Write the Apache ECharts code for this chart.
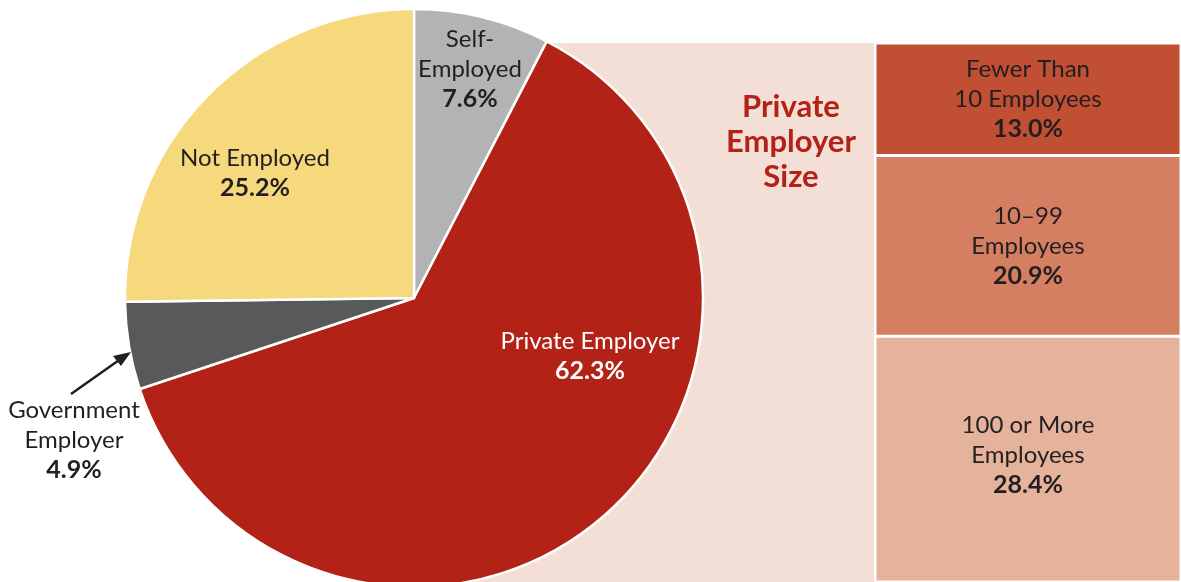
<!DOCTYPE html>
<html>
<head>
<meta charset="utf-8">
<script src="https://cdn.jsdelivr.net/npm/echarts@6/dist/echarts.min.js"></script>
<style>
html,body{margin:0;padding:0;background:#fff;}
#main{width:1181px;height:582px;}
</style>
</head>
<body>
<div id="main"></div>
<script>
// 饼图数据（顺时针，从12点开始）
var pieNames = ['Self-\nEmployed', 'Private Employer', 'Government\nEmployer', 'Not Employed'];
var pieValues = [7.6, 62.3, 4.9, 25.2];
var pieColors = ['#b3b3b6', '#b22216', '#58595b', '#f5d97c'];
var pieLabelColors = ['#231f20', '#ffffff', '#231f20', '#231f20'];

// 私营雇主规模数据
var sizeNames = ['Fewer Than\n10 Employees', '10\u201399\nEmployees', '100 or More\nEmployees'];
var sizeValues = [13.0, 20.9, 28.4];
var sizeColors = ['#c04f33', '#d47e62', '#e5b29b'];

var FONT = 'Lato';
var TXT = '#231f20';

// 标签位置（label中心）
var pieLabelPos = [[470, 69], [590, 356], [74, 440], [255, 173]];

function richLabel(name, val) {
    var parts = name.split('\n');
    var s = parts.map(function(p){ return '{n|' + p + '}'; }).join('\n');
    return s + '\n{v|' + val.toFixed(1) + '%}';
}

var myChart = echarts.init(document.getElementById('main'));

var option = {
    animation: false,
    backgroundColor: '#ffffff',
    title: {
        text: 'Private\nEmployer\nSize',
        left: 786,
        top: 84,
        textAlign: 'center',
        textStyle: {
            fontFamily: FONT,
            fontSize: 31,
            fontWeight: 'bold',
            color: '#b22216',
            lineHeight: 35
        }
    },
    graphic: [
        {
            type: 'rect',
            z: 0,
            shape: {x: 414, y: 43, width: 460, height: 545},
            style: {fill: '#f3dfd5'}
        },
        {
            type: 'line',
            z: 10,
            shape: {x1: 71, y1: 394, x2: 122, y2: 358},
            style: {stroke: '#231f20', lineWidth: 2.5}
        },
        {
            type: 'polygon',
            z: 10,
            shape: {points: [[131, 352], [113, 356], [121, 366]]},
            style: {fill: '#231f20'}
        }
    ],
    grid: {left: 875, right: -5, top: 43, bottom: -10},
    xAxis: {type: 'category', data: ['size'], show: false},
    yAxis: {type: 'value', inverse: true, min: 0, max: 62.3, show: false},
    series: [
        {
            type: 'pie',
            z: 2,
            center: [414, 298],
            radius: [0, 289],
            startAngle: 90,
            clockwise: true,
            silent: true,
            itemStyle: {borderColor: '#ffffff', borderWidth: 2.5},
            labelLine: {show: false},
            label: {
                show: true,
                position: 'inside',
                align: 'center',
                verticalAlign: 'middle',
                formatter: function(p){ return richLabel(p.name, p.value); }
            },
            labelLayout: function(params){
                var pos = pieLabelPos[params.dataIndex];
                return {x: pos[0], y: pos[1], align: 'center', verticalAlign: 'middle'};
            },
            data: pieValues.map(function(v, i){
                return {
                    name: pieNames[i],
                    value: v,
                    itemStyle: {color: pieColors[i]},
                    label: {
                        rich: {
                            n: {fontFamily: FONT, fontSize: 24, color: pieLabelColors[i], lineHeight: 30},
                            v: {fontFamily: FONT, fontSize: 25, fontWeight: 'bold', color: pieLabelColors[i], lineHeight: 30}
                        }
                    }
                };
            })
        }
    ].concat(sizeValues.map(function(v, i){
        return {
            type: 'bar',
            stack: 'size',
            barWidth: '100%',
            silent: true,
            itemStyle: {color: sizeColors[i], borderColor: '#ffffff', borderWidth: 1.5},
            label: {
                show: true,
                position: 'inside',
                offset: [0, i === 2 ? -4 : 0],
                formatter: function(){ return richLabel(sizeNames[i], v); },
                rich: {
                    n: {fontFamily: FONT, fontSize: 24, color: TXT, lineHeight: 30},
                    v: {fontFamily: FONT, fontSize: 25, fontWeight: 'bold', color: TXT, lineHeight: 30}
                }
            },
            data: [v]
        };
    }))
};

myChart.setOption(option);
</script>
</body>
</html>
